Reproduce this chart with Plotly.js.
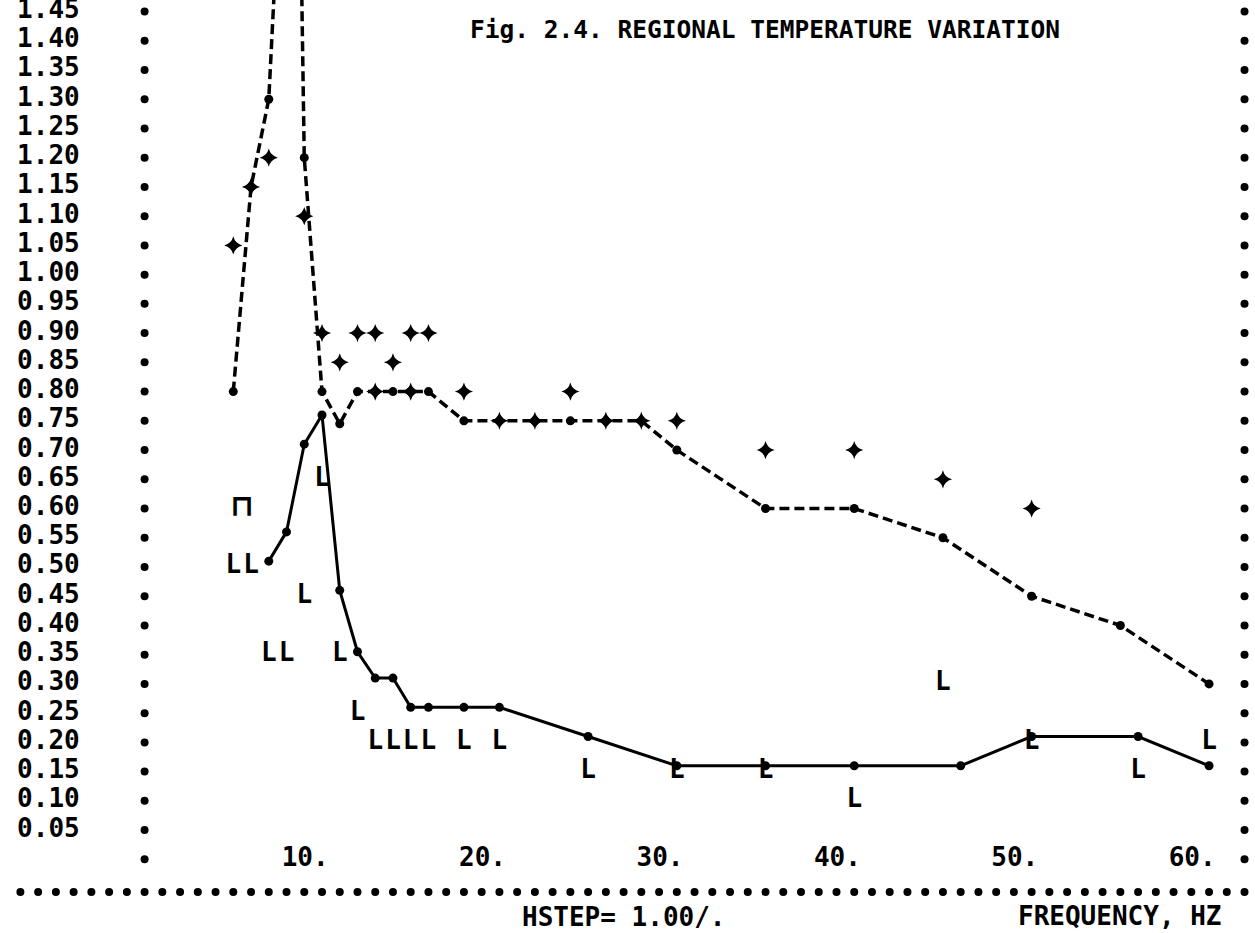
<!DOCTYPE html>
<html>
<head>
<meta charset="utf-8">
<script src="https://cdn.plot.ly/plotly-3.0.1.min.js"></script>
<style>
  html, body { margin: 0; padding: 0; background: #fff; }
  #chart { width: 1255px; height: 933px; }
</style>
</head>
<body>
<div id="chart"></div>
<script>
// ---- tick labels ----
const yTickText = ['1.45','1.40','1.35','1.30','1.25','1.20','1.15','1.10','1.05','1.00',
                   '0.95','0.90','0.85','0.80','0.75','0.70','0.65','0.60','0.55','0.50',
                   '0.45','0.40','0.35','0.30','0.25','0.20','0.15','0.10','0.05'];
const yTickVals = yTickText.map(Number);
const xTickVals = [10, 20, 30, 40, 50, 60];
const xTickText = ['10.', '20.', '30.', '40.', '50.', '60.'];

// ---- dashed curve (upper) ----
const upperX = [5, 6, 7, 8.5, 9, 10, 11, 12, 13, 14, 15, 16, 18, 20, 22, 24, 26, 28, 30, 35, 40, 45, 50, 55, 60];
const upperY = [0.80, 1.15, 1.30, 2.20, 1.20, 0.80, 0.745, 0.80, 0.80, 0.80, 0.80, 0.80, 0.75, 0.75, 0.75, 0.75, 0.75, 0.75, 0.70, 0.60, 0.60, 0.55, 0.45, 0.40, 0.30];

// ---- "+" points ----
const plusX = [5, 6, 7, 9, 10, 11, 12, 13, 13, 14, 15, 15, 16, 18, 20, 22, 24, 26, 28, 30, 35, 40, 45, 50];
const plusY = [1.05, 1.15, 1.20, 1.10, 0.90, 0.85, 0.90, 0.90, 0.80, 0.85, 0.90, 0.80, 0.90, 0.80, 0.75, 0.75, 0.80, 0.75, 0.75, 0.75, 0.70, 0.70, 0.65, 0.60];

// ---- solid curve (lower) ----
const lowerX = [7, 8, 9, 10, 11, 12, 13, 14, 15, 16, 18, 20, 25, 30, 35, 40, 46, 50, 56, 60];
const lowerY = [0.51, 0.56, 0.71, 0.76, 0.46, 0.355, 0.31, 0.31, 0.26, 0.26, 0.26, 0.26, 0.21, 0.16, 0.16, 0.16, 0.16, 0.21, 0.21, 0.16];

// ---- "L" points ----
const lX = [5, 6, 7, 8, 9, 10, 11, 12, 13, 14, 15, 16, 18, 20, 25, 30, 35, 40, 45, 50, 56, 60];
const lY = [0.50, 0.50, 0.35, 0.35, 0.45, 0.65, 0.35, 0.25, 0.20, 0.20, 0.20, 0.20, 0.20, 0.20, 0.15, 0.15, 0.15, 0.10, 0.30, 0.20, 0.15, 0.20];

// ---- odd overprinted glyph ----
const oddX = [5.5];
const oddY = [0.60];

// ---- printer frame (columns / rows of dots) ----
const frameLeftCol = 0, frameRightCol = 62, frameBottomRow = -0.056;
const frameRows = yTickVals.concat([0]);
const frameCols = [];
for (let c = -7; c <= 62; c++) frameCols.push(c);

const mono = 'DejaVu Sans Mono, Liberation Mono, monospace';
const ink = '#000';
const labelFont = { family: mono, size: 26, color: ink, weight: 'bold' };

const traces = [
  // frame
  { x: frameRows.map(() => frameLeftCol), y: frameRows, mode: 'markers', hoverinfo: 'skip',
    marker: { symbol: 'circle', size: 8, color: ink } },
  { x: frameRows.map(() => frameRightCol), y: frameRows, mode: 'markers', hoverinfo: 'skip',
    marker: { symbol: 'circle', size: 8, color: ink } },
  { x: frameCols, y: frameCols.map(() => frameBottomRow), mode: 'markers', hoverinfo: 'skip',
    marker: { symbol: 'circle', size: 8, color: ink } },
  // y tick labels
  { x: yTickVals.map(() => -5.42), y: yTickVals, text: yTickText, mode: 'text',
    textposition: 'middle center', hoverinfo: 'skip', cliponaxis: false,
    textfont: labelFont },
  // x tick labels (the trailing period sits on the tick column)
  { x: xTickVals.map(v => v - 0.95), y: xTickVals.map(() => 0), text: xTickText, mode: 'text',
    textposition: 'middle center', hoverinfo: 'skip',
    textfont: labelFont },
  // dashed curve
  { name: 'upper', x: upperX, y: upperY, mode: 'lines+markers',
    line: { color: ink, width: 3.5, dash: '10px,5px' },
    marker: { symbol: 'circle', size: 9, color: ink } },
  // plus points
  { name: '+', x: plusX, y: plusY, mode: 'markers',
    marker: { symbol: 'star-diamond', size: 13, color: ink } },
  // solid curve
  { name: 'lower', x: lowerX, y: lowerY, mode: 'lines+markers',
    line: { color: ink, width: 3 },
    marker: { symbol: 'circle', size: 9, color: ink } },
  // L points
  { name: 'L', x: lX, y: lY, text: lX.map(() => 'L'), mode: 'text', textposition: 'middle center',
    textfont: labelFont },
  // odd glyph
  { name: 'odd', x: oddX, y: oddY, text: ['\u2293'], mode: 'text', textposition: 'middle center',
    textfont: { family: 'DejaVu Sans, sans-serif', size: 30, color: ink, weight: 'bold' } }
];

const layout = {
  width: 1255, height: 933,
  margin: { l: 0, r: 0, t: 0, b: 0 },
  paper_bgcolor: '#fff', plot_bgcolor: '#fff',
  showlegend: false,
  title: {
    text: 'Fig. 2.4. REGIONAL TEMPERATURE VARIATION',
    x: 470 / 1255, xanchor: 'left', xref: 'paper',
    y: 1 - 29 / 933, yanchor: 'middle', yref: 'container',
    font: { family: mono, size: 24.5, color: ink, weight: 'bold' }
  },
  xaxis: { range: [-8.15, 62.59], visible: false, fixedrange: true },
  yaxis: { range: [-0.126, 1.4697], visible: false, fixedrange: true },
  annotations: [
    { text: 'HSTEP= 1.00/.', xref: 'paper', yref: 'paper', x: 624 / 1255, y: 1 - 917 / 933,
      xanchor: 'center', yanchor: 'middle', showarrow: false,
      font: labelFont },
    { text: 'FREQUENCY, HZ', xref: 'paper', yref: 'paper', x: 1120 / 1255, y: 1 - 916 / 933,
      xanchor: 'center', yanchor: 'middle', showarrow: false,
      font: labelFont }
  ]
};

Plotly.newPlot('chart', traces, layout, { displayModeBar: false, staticPlot: true });
</script>
</body>
</html>
